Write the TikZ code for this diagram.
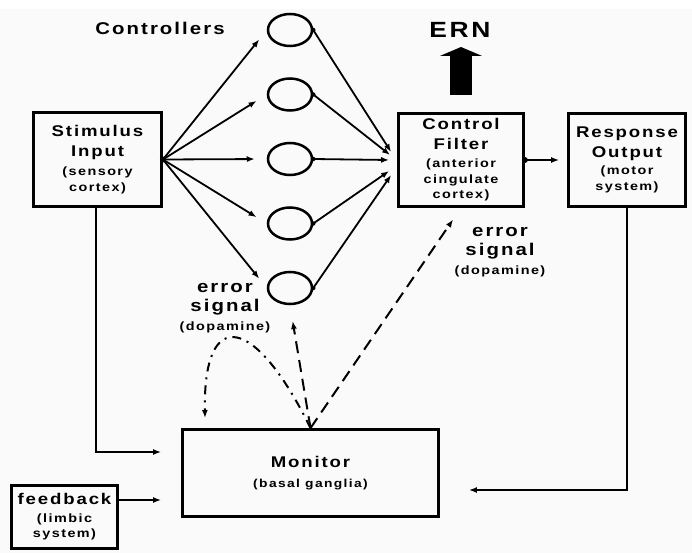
\documentclass[tikz,border=0pt]{standalone}
\usepackage{fontspec}
\setmainfont{Liberation Sans}
\newfontfamily\lab{Liberation Sans}[FakeStretch=1.2,LetterSpace=12]
\usetikzlibrary{arrows.meta,shapes.geometric,calc}

\newcommand\biglab[1]{{\fontsize{15.5}{18}\selectfont #1}}

\tikzset{
  box/.style={draw, rectangle, line width=2.8pt, align=center, inner sep=0pt,
    font=\lab\bfseries\fontsize{12}{16}\selectfont},
  unit/.style={draw, ellipse, line width=2.5pt, minimum width=44pt,
    minimum height=32pt, inner sep=0pt},
  link/.style={line width=1.8pt, -{Latex[length=8pt,width=6pt]}},
  dashlink/.style={link, line width=2pt, dash pattern=on 12pt off 7pt},
  dotlink/.style={link, line width=2pt, dash pattern=on 9pt off 6pt on 2pt off 6pt},
  dot/.style={circle, fill, inner sep=0pt, minimum size=#1},
  dot/.default=6pt,
  errtext/.style={align=center, font=\lab\bfseries\fontsize{17}{19}\selectfont}
}

\begin{document}
\begin{tikzpicture}[x=1pt, y=-1pt]
  \useasboundingbox (0,0) rectangle (692,553);
  \fill[white] (0,0) rectangle (692,553);
  \fill[black!2] (0,9) rectangle (692,553);

  % the boxes
  \node[box, minimum width=128pt, minimum height=94pt] (stim) at (97.5,159.5)
    {\biglab{Stimulus}\\[4pt]\biglab{Input}\\[3pt](sensory\\cortex)};
  \node[box, minimum width=125pt, minimum height=93pt] (filter) at (461,160)
    {\biglab{Control}\\[4pt]\biglab{Filter}\\[2pt](anterior\\cingulate\\[-1pt]cortex)};
  \node[box, minimum width=117pt, minimum height=93pt] (resp) at (627,160)
    {\biglab{Response}\\[4pt]\biglab{Output}\\[1pt](motor\\system)};
  \node[box, minimum width=256pt, minimum height=87pt,
    font=\lab\bfseries\fontsize{11.5}{20}\selectfont] (monitor) at (310.5,473)
    {\biglab{Monitor}\\(basal ganglia)};
  \node[box, minimum width=106pt, minimum height=63pt] (fb) at (64.5,517)
    {\biglab{feedback}\\[2pt](limbic\\[-1pt]system)};

  % the controllers
  \node[font=\lab\bfseries\fontsize{17}{20}\selectfont] (ctrl) at (160,28) {Controllers};
  \foreach \i in {1,...,5} {
    \node[unit] (c\i) at (290,{30+64.5*(\i-1)}) {};
    \node[dot=4.5pt] at (c\i.east) {};
  }
  \node[dot] at (stim.east) {};
  \node[dot] at (filter.east) {};

  % stimulus to controllers to filter
  \foreach \i/\dx/\dy in {1/-6/-8, 2/-7/-5, 3/-8/0, 4/-8/11, 5/-6/15} {
    \draw[link, shorten >=12pt] (stim.east) -- (c\i.west);
    \draw[link] (c\i.east) -- ($(filter.west)+(\dx,\dy)$);
  }
  \draw[link] (filter.east) -- ($(resp.west)+(-8,0)$);

  % ERN
  \node[font=\lab\bfseries\fontsize{22}{24}\selectfont] (ern) at (460,30) {ERN};
  \coordinate (erntip) at (461,47);
  \draw[line width=22pt, -{Triangle[length=9pt,width=42pt]}]
    ($(filter.north)+(0,-17)$) -- (erntip);

  % into the monitor
  \coordinate (monS) at ($(monitor.west)+(-20,-21)$);
  \coordinate (monF) at ($(monitor.west)+(-20,27)$);
  \coordinate (monR) at ($(monitor.east)+(29,17)$);
  \draw[link] (stim.south -| 96,0) |- (monS);
  \draw[link] (fb.east |- monF) -- (monF);
  \draw[link] (resp.south) |- (monR);

  % error signals
  \coordinate (loopend) at (205,418);
  \draw[dashlink, shorten >=16pt] (monitor.north) -- (c5.south);
  \draw[dashlink, shorten >=14pt] (monitor.north) -- (filter.south);
  \draw[dotlink] (monitor.north) .. controls (255,315) and (203,305) .. (loopend);
  \node[errtext] (errL) at (225,308) {error\\signal\\{\fontsize{12}{19}\selectfont(dopamine)}};
  \node[errtext] (errR) at (500,252) {error\\signal\\{\fontsize{12}{19}\selectfont(dopamine)}};

\end{tikzpicture}
\end{document}
